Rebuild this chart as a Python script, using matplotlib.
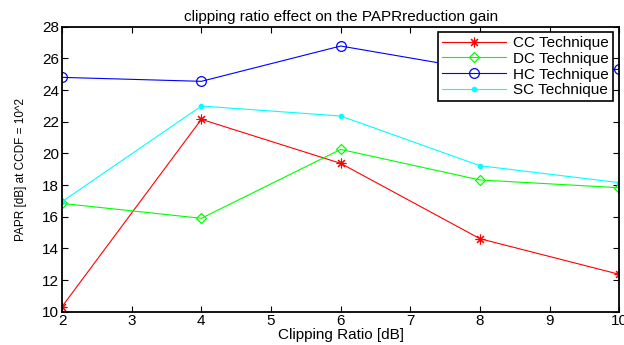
import matplotlib
matplotlib.use("Agg")
import matplotlib.pyplot as plt

# Dados
clipping_ratio = [2, 4, 6, 8, 10]
cc = [10.32, 22.15, 19.37, 14.61, 12.36]
dc = [16.84, 15.90, 20.25, 18.32, 17.83]
hc = [24.80, 24.55, 26.78, 25.27, 25.30]
sc = [16.95, 22.99, 22.36, 19.22, 18.15]

plt.rcParams['font.family'] = ['Liberation Sans', 'DejaVu Sans']

fig = plt.figure(figsize=(6.24, 3.45), dpi=100)
ax = fig.add_axes([0.0994, 0.0965, 0.8931, 0.8261])

ax.plot(clipping_ratio, cc, color=(1, 0, 0), marker=(8, 2, 0), markersize=7,
        mew=0.8, lw=0.8, label='CC Technique')
ax.plot(clipping_ratio, dc, color=(0, 1, 0), marker='D', markersize=5.5, lw=0.8,
        markerfacecolor='none', mew=0.9, label='DC Technique')
ax.plot(clipping_ratio, hc, color=(0, 0, 1), marker='o', markersize=7, lw=0.8,
        markerfacecolor='none', mew=0.9, label='HC Technique')
ax.plot(clipping_ratio, sc, color=(0, 1, 1), marker='.', markersize=6, lw=0.8,
        label='SC Technique')

ax.set_xlim(2, 10)
ax.set_ylim(10, 28)
ax.set_xticks(range(2, 11))
ax.set_yticks(range(10, 29, 2))
ax.tick_params(direction='in', top=True, right=True, length=4, width=0.8,
               labelsize=11, pad=2)
for s in ax.spines.values():
    s.set_linewidth(1.3)
ax.set_xlabel('Clipping Ratio [dB]', fontsize=11, labelpad=0)
ax.set_ylabel('PAPR [dB] at CCDF = 10^2', fontsize=8.5, labelpad=11)
ax.set_title('clipping ratio effect on the PAPRreduction gain', fontsize=11, pad=4)

leg = ax.legend(loc='upper right', bbox_to_anchor=(0.9887, 0.981), fontsize=11,
                handlelength=4.2, borderpad=0.25, labelspacing=0.12,
                handletextpad=0.5, fancybox=False, framealpha=1,
                edgecolor='black', borderaxespad=0)
leg.get_frame().set_linewidth(1.2)

fig.savefig('out.png', dpi=100)
